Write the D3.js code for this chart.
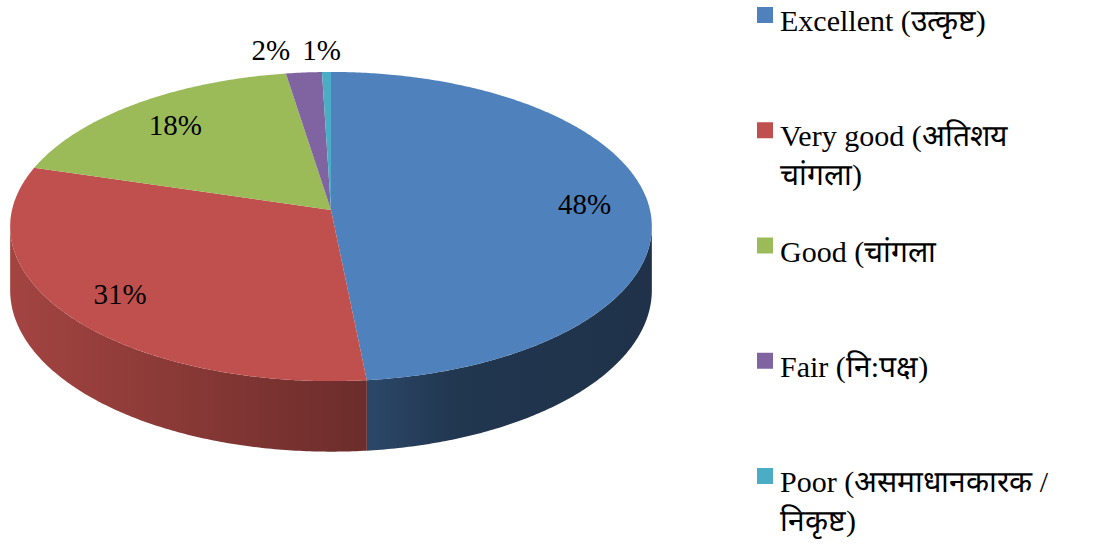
<!DOCTYPE html>
<html>
<head>
<meta charset="utf-8">
<script src="https://cdn.jsdelivr.net/npm/d3@7"></script>
</head>
<body style="margin:0">
<script>
// Data
const categories = ['Excellent', 'Very good', 'Good', 'Fair', 'Poor'];
const legendLines = [
  ['Excellent (उत्कृष्ट)'],
  ['Very good (अतिशय', 'चांगला)'],
  ['Good (चांगला'],
  ['Fair (नि:पक्ष)'],
  ['Poor (असमाधानकारक /', 'निकृष्ट)']
];
const shares = [48.4, 31.2, 17.9, 2.0, 0.5];
const colors = ['#4f81bd', '#c0504d', '#9bbb59', '#8064a2', '#4bacc6'];

const width = 1100, height = 548;

// 3d pie geometry (tilted disc with a little perspective)
const cx = 331, cy = 210, rx = 319, ry = 152.8, depth = 63, persp = 0.107;

function project(a, r = 1, drop = 0) {
  const d = -Math.cos(a);
  const w = 1 - persp * d;
  return [cx + r * rx * Math.sin(a) / w, cy + (r * ry * d + drop) / w];
}

function angles(a0, a1) {
  const n = Math.max(2, Math.ceil((a1 - a0) / 0.01));
  return d3.range(n + 1).map(i => a0 + (a1 - a0) * i / n);
}

function serif(sel) {
  return sel.attr('font-family', 'Liberation Serif').style('font-family', 'Liberation Serif, serif');
}

const svg = d3.select('body')
  .append('svg')
  .attr('width', width)
  .attr('height', height);

svg.append('rect').attr('width', width).attr('height', height).attr('fill', '#fff');

const pie = d3.pie().sort(null).value(d => d).startAngle(0).endAngle(2 * Math.PI);
const arcs = pie(shares);
const line = d3.line();

// side shading gradients, light on the left and dark on the right
const shade = [[0, 0.85], [0.55, 0.56], [0.7, 0.42], [1, 0.39]];
const defs = svg.append('defs');
colors.forEach((c, i) => {
  const base = d3.rgb(c);
  const g = defs.append('linearGradient')
    .attr('id', 'side-' + i)
    .attr('gradientUnits', 'userSpaceOnUse')
    .attr('x1', cx - rx).attr('x2', cx + rx)
    .attr('y1', 0).attr('y2', 0);
  shade.forEach(([o, f]) => {
    g.append('stop')
      .attr('offset', o)
      .attr('stop-color', d3.rgb(base.r * f, base.g * f, base.b * f).formatHex());
  });
});

// Sides (only the front of the cylinder is visible)
const lo = Math.acos(-persp), hi = 2 * Math.PI - lo;
arcs.forEach((s, i) => {
  const a0 = Math.max(s.startAngle, lo), a1 = Math.min(s.endAngle, hi);
  if (a1 <= a0) return;
  const as = angles(a0, a1);
  const pts = as.map(a => project(a)).concat(as.slice().reverse().map(a => project(a, 1, depth)));
  svg.append('path')
    .attr('d', line(pts) + 'Z')
    .attr('fill', 'url(#side-' + i + ')');
});

// Top faces
arcs.forEach((s, i) => {
  svg.append('path')
    .attr('d', line([[cx, cy]].concat(angles(s.startAngle, s.endAngle).map(a => project(a)))) + 'Z')
    .attr('fill', colors[i]);
});

// Labels
const fmt = v => Math.round(v) + '%';
arcs.filter(s => s.data >= 5).forEach(s => {
  const [x, y] = project((s.startAngle + s.endAngle) / 2, 0.8);
  serif(svg.append('text'))
    .attr('x', x).attr('y', y + 10)
    .attr('text-anchor', 'middle')
    .attr('font-size', 29)
    .text(fmt(s.data));
});

// small slices go above the rim, packed leftwards
const outside = arcs.filter(s => s.data < 5).sort((a, b) => b.startAngle - a.startAngle);
let left = null;
outside.forEach(s => {
  const [x] = project((s.startAngle + s.endAngle) / 2);
  const top = project(0)[1];
  const t = serif(svg.append('text'))
    .attr('y', top - 12)
    .attr('font-size', 29)
    .text(fmt(s.data));
  const w = t.node().getComputedTextLength();
  const xc = left === null ? x - 5 : left - 12 - w / 2;
  t.attr('x', xc).attr('text-anchor', 'middle');
  left = xc - w / 2;
});

// Legend
const ly = d3.scalePoint().domain(categories).range([31, 492]);

categories.forEach((c, i) => {
  svg.append('rect')
    .attr('x', 757)
    .attr('y', ly(c) - 24)
    .attr('width', 16)
    .attr('height', 16)
    .attr('fill', colors[i]);

  legendLines[i].forEach((l, j) => {
    serif(svg.append('text'))
      .attr('x', 780)
      .attr('y', ly(c) + j * 39)
      .attr('font-size', 30)
      .text(l);
  });
});
</script>
</body>
</html>
